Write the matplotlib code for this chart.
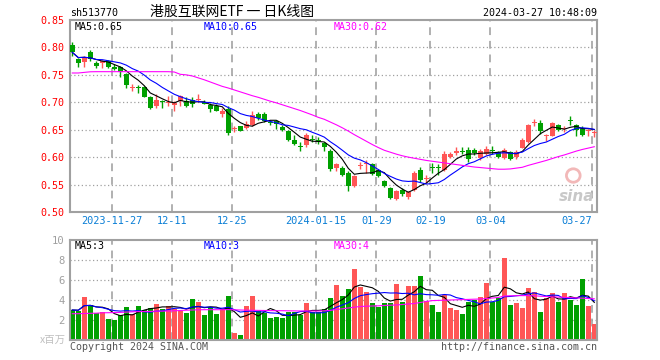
import numpy as np
import pandas as pd
import matplotlib
matplotlib.use('Agg')
import matplotlib.pyplot as plt
from matplotlib.patches import Ellipse

# daily candles, 2023-11-16 .. 2024-03-27
opens = [0.805, 0.778, 0.773, 0.791, 0.771, 0.771, 0.775, 0.765, 0.764, 0.751,
         0.726, 0.728, 0.727, 0.710, 0.693, 0.703, 0.699, 0.695, 0.703, 0.703,
         0.704, 0.704, 0.701, 0.695, 0.693, 0.678, 0.687, 0.651, 0.656, 0.654,
         0.659, 0.678, 0.679, 0.663, 0.665, 0.655, 0.648, 0.632, 0.619, 0.622,
         0.632, 0.631, 0.625, 0.612, 0.580, 0.581, 0.571, 0.547, 0.584, 0.587,
         0.587, 0.576, 0.557, 0.5445, 0.524, 0.541, 0.527, 0.540, 0.5765, 0.560,
         0.581, 0.582, 0.577, 0.600, 0.608, 0.611, 0.613, 0.613, 0.598, 0.606,
         0.613, 0.610, 0.598, 0.610, 0.601, 0.617, 0.628, 0.662, 0.662, 0.639,
         0.639, 0.659, 0.651, 0.667, 0.658, 0.653, 0.6478, 0.6436]
highs = [0.810, 0.781, 0.785, 0.795, 0.775, 0.777, 0.777, 0.770, 0.766, 0.753,
         0.734, 0.731, 0.729, 0.712, 0.715, 0.705, 0.712, 0.703, 0.714, 0.709,
         0.709, 0.716, 0.704, 0.698, 0.697, 0.690, 0.693, 0.656, 0.657, 0.665,
         0.685, 0.682, 0.682, 0.667, 0.667, 0.659, 0.649, 0.640, 0.628, 0.644,
         0.641, 0.636, 0.628, 0.614, 0.590, 0.584, 0.575, 0.567, 0.592, 0.595,
         0.590, 0.578, 0.558, 0.546, 0.540, 0.544, 0.539, 0.574, 0.582, 0.568,
         0.590, 0.588, 0.611, 0.610, 0.618, 0.618, 0.619, 0.616, 0.615, 0.621,
         0.621, 0.612, 0.616, 0.612, 0.613, 0.634, 0.661, 0.670, 0.668, 0.6424,
         0.664, 0.661, 0.657, 0.6756, 0.661, 0.657, 0.651, 0.6497]
lows = [0.784, 0.765, 0.764, 0.775, 0.762, 0.762, 0.762, 0.758, 0.747, 0.726,
        0.720, 0.717, 0.709, 0.688, 0.690, 0.690, 0.694, 0.685, 0.693, 0.691,
        0.691, 0.701, 0.696, 0.682, 0.684, 0.673, 0.641, 0.645, 0.647, 0.652,
        0.657, 0.667, 0.664, 0.659, 0.652, 0.648, 0.629, 0.622, 0.612, 0.619,
        0.628, 0.624, 0.612, 0.574, 0.575, 0.565, 0.538, 0.545, 0.578, 0.572,
        0.568, 0.563, 0.546, 0.523, 0.522, 0.530, 0.524, 0.538, 0.555, 0.553,
        0.571, 0.568, 0.575, 0.598, 0.604, 0.605, 0.592, 0.604, 0.595, 0.604,
        0.606, 0.598, 0.596, 0.595, 0.597, 0.616, 0.626, 0.656, 0.642, 0.6295,
        0.638, 0.647, 0.645, 0.659, 0.639, 0.639, 0.638, 0.636]
closes = [0.791, 0.772, 0.783, 0.778, 0.766, 0.776, 0.764, 0.760, 0.756, 0.731,
          0.728, 0.726, 0.710, 0.690, 0.705, 0.701, 0.701, 0.698, 0.712, 0.693,
          0.697, 0.705, 0.697, 0.687, 0.685, 0.685, 0.644, 0.653, 0.648, 0.660,
          0.677, 0.671, 0.666, 0.662, 0.660, 0.649, 0.632, 0.624, 0.618, 0.640,
          0.631, 0.630, 0.619, 0.578, 0.587, 0.567, 0.547, 0.565, 0.586, 0.590,
          0.570, 0.566, 0.547, 0.525, 0.538, 0.533, 0.537, 0.572, 0.559, 0.562,
          0.580, 0.580, 0.606, 0.606, 0.611, 0.609, 0.596, 0.607, 0.612, 0.614,
          0.611, 0.600, 0.613, 0.597, 0.610, 0.632, 0.659, 0.664, 0.6485, 0.641,
          0.662, 0.650, 0.653, 0.666, 0.650, 0.641, 0.6497, 0.6448]
ma30 = [0.7534, 0.7534, 0.7545, 0.7556, 0.7558, 0.7558, 0.7558, 0.7558, 0.7558, 0.7558,
        0.7558, 0.7558, 0.7558, 0.7558, 0.7558, 0.7558, 0.7558, 0.7552, 0.7510, 0.7500,
        0.748, 0.7445, 0.741, 0.737, 0.733, 0.729, 0.726, 0.7225, 0.719, 0.7155,
        0.712, 0.709, 0.7055, 0.702, 0.699, 0.6955, 0.692, 0.6885, 0.685, 0.681,
        0.677, 0.6725, 0.669, 0.664, 0.659, 0.6535, 0.6475, 0.641, 0.635, 0.629,
        0.623, 0.6175, 0.6125, 0.609, 0.6055, 0.6025, 0.600, 0.598, 0.596, 0.594,
        0.5925, 0.591, 0.5895, 0.588, 0.5865, 0.585, 0.5835, 0.582, 0.581, 0.580,
        0.579, 0.578, 0.578, 0.5785, 0.580, 0.5815, 0.585, 0.588, 0.591, 0.594,
        0.5975, 0.601, 0.604, 0.6075, 0.611, 0.614, 0.6165, 0.619]

# volume, millions
volumes = [3.0, 2.95, 4.35, 3.55, 2.7, 2.85, 2.1, 2.0, 2.5, 3.35,
           2.6, 3.45, 3.05, 3.25, 3.65, 3.15, 3.45, 3.15, 2.9, 2.75,
           4.15, 3.85, 2.5, 3.35, 2.6, 3.1, 4.45, 0.7, 0.5, 3.45,
           4.45, 2.9, 2.75, 2.2, 2.3, 2.2, 2.85, 2.85, 2.5, 3.75,
           2.85, 2.85, 3.1, 4.25, 5.55, 4.45, 5.15, 7.07, 5.3, 4.85,
           3.75, 3.35, 3.75, 3.75, 5.65, 3.85, 5.45, 5.45, 6.45, 3.95,
           3.55, 2.85, 4.55, 3.25, 3.05, 2.65, 3.85, 4.05, 4.35, 5.75,
           3.85, 4.25, 8.2, 3.55, 3.75, 3.25, 5.25, 4.85, 2.85, 4.25,
           4.75, 3.85, 4.75, 4.05, 3.55, 6.15, 3.45, 1.6]
vol_ma30 = [2.63, 2.63, 2.65, 2.67, 2.68, 2.72, 2.73, 2.74, 2.76, 2.79,
            2.82, 2.84, 2.85, 2.86, 2.88, 2.89, 2.90, 2.92, 2.95, 2.98,
            3.00, 3.02, 3.03, 3.03, 3.03, 3.03, 3.04, 3.02, 3.00, 2.98,
            2.97, 2.96, 2.95, 2.94, 2.93, 2.93, 2.92, 2.91, 2.90, 2.90,
            2.90, 2.90, 2.92, 2.96, 3.05, 3.12, 3.20, 3.28, 3.35, 3.38,
            3.40, 3.42, 3.45, 3.48, 3.50, 3.55, 3.60, 3.65, 3.75, 3.85,
            3.94, 3.96, 3.98, 4.00, 4.02, 4.04, 4.06, 4.08, 4.10, 4.15,
            4.20, 4.25, 4.40, 4.42, 4.43, 4.44, 4.44, 4.42, 4.38, 4.35,
            4.32, 4.29, 4.27, 4.24, 4.21, 4.18, 4.15, 4.12]

date_pos = [7, 17, 27, 41, 51, 60, 70, 87]
date_labels = ['2023-11-27', '12-11', '12-25', '2024-01-15', '01-29', '02-19', '03-04', '03-27']
price_ticks = [0.50, 0.55, 0.60, 0.65, 0.70, 0.75, 0.80, 0.85]
vol_ticks = [2, 4, 6, 8, 10]

RED = '#ff5656'
GREEN = '#00a000'
MONO = 'DejaVu Sans Mono'
CJK = ['Noto Sans CJK SC', 'DejaVu Sans']

o = np.array(opens); h = np.array(highs); l = np.array(lows); c = np.array(closes)
v = np.array(volumes)
x = np.arange(len(c))
cols = np.where(c >= o, RED, GREEN)
ma5 = pd.Series(c).rolling(5, min_periods=1).mean()
ma10 = pd.Series(c).rolling(10, min_periods=1).mean()
vma5 = pd.Series(v).rolling(5, min_periods=1).mean()
vma10 = pd.Series(v).rolling(10, min_periods=1).mean()

fig = plt.figure(figsize=(6.6, 3.6), dpi=100)
ax = fig.add_axes([70/660, 148/360, 527/660, 192/360])
axv = fig.add_axes([70/660, 20/360, 527/660, 100/360])
xlim = (-2.3/6, 87 + 2.7/6)

for a in (ax, axv):
    a.set_xlim(*xlim)
    for s in a.spines.values():
        s.set_color('#a0a0a0')
        s.set_linewidth(1.5)
    for p in date_pos:
        a.axvline(p - 1/3, color='#b0b0b0', lw=1.4, ls=(0, (4, 3)), zorder=0)
    a.tick_params(length=0)

# price panel
ax.set_ylim(0.50, 0.85)
for t in price_ticks[1:-1]:
    ax.axhline(t, color='#a0a0a0', lw=0.9, ls=(0, (1, 2)), zorder=0)
ax.vlines(x, l, h, colors=cols, lw=1.0, zorder=2)
ax.bar(x, np.maximum(np.abs(c - o), 0.0018), bottom=np.minimum(o, c),
       width=0.82, color=cols, zorder=3)
ax.plot(x, ma5, color='black', lw=0.8, zorder=4)
ax.plot(x, ma10, color='#0000ff', lw=0.8, zorder=4)
ax.plot(x, ma30, color='#ff00ff', lw=0.8, zorder=4)
ax.set_yticks(price_ticks)
ax.set_yticklabels(['%.2f' % t for t in price_ticks], color='#ff0000',
                   fontsize=7.2, family=MONO)
ax.tick_params(axis='y', pad=4)
ax.set_xticks([p - 1/3 for p in date_pos])
ax.set_xticklabels(date_labels, color='#0a7ed6', fontsize=7.4, family=MONO)
ax.tick_params(axis='x', pad=3)
ax.get_xticklabels()[-1].set_ha('right')
ax.text(0.009, 0.963, 'MA5:0.65', transform=ax.transAxes, fontsize=7.2,
        family=MONO, color='black', va='center')
ax.text(0.254, 0.963, 'MA10:0.65', transform=ax.transAxes, fontsize=7.2,
        family=MONO, color='#0000ff', va='center')
ax.text(0.501, 0.963, 'MA30:0.62', transform=ax.transAxes, fontsize=7.2,
        family=MONO, color='#ff00ff', va='center')
# sina watermark
ax.add_patch(Ellipse((0.955, 0.19), 0.026, 0.07, transform=ax.transAxes,
                     facecolor='none', edgecolor='#f2b8b8', lw=2, zorder=1))
ax.text(0.995, 0.08, 'sina', transform=ax.transAxes, fontsize=11,
        fontweight='bold', style='italic', color='#c8c8c8', ha='right',
        va='center', zorder=1)

# volume panel
axv.set_ylim(0, 10)
for t in vol_ticks[:-1]:
    axv.axhline(t, color='#a0a0a0', lw=0.9, ls=(0, (1, 2)), zorder=0)
axv.bar(x, v, width=0.82, color=cols, zorder=2)
axv.plot(x, vma5, color='black', lw=0.8, zorder=3)
axv.plot(x, vma10, color='#0000ff', lw=0.8, zorder=3)
axv.plot(x, vol_ma30, color='#ff00ff', lw=0.8, zorder=3)
axv.set_xticks([])
axv.set_yticks(vol_ticks)
axv.set_yticklabels([str(t) for t in vol_ticks], color='#a0a0a0',
                    fontsize=7.6, family=MONO)
axv.tick_params(axis='y', pad=4)
axv.text(0.009, 0.94, 'MA5:3', transform=axv.transAxes, fontsize=7.2,
         family=MONO, color='black', va='center')
axv.text(0.254, 0.94, 'MA10:3', transform=axv.transAxes, fontsize=7.2,
         family=MONO, color='#0000ff', va='center')
axv.text(0.501, 0.94, 'MA30:4', transform=axv.transAxes, fontsize=7.2,
         family=MONO, color='#ff00ff', va='center')

# header / footer texts
fig.text(70/660, 1 - 13/360, 'sh513770', fontsize=7.2, family=MONO, va='center')
fig.text(150/660, 1 - 12/360, '港股互联网ETF 一 日K线图', fontsize=10,
         family=CJK, va='center')
fig.text(597/660, 1 - 13/360, '2024-03-27 10:48:09', fontsize=7.2, family=MONO,
         va='center', ha='right')
fig.text(66/660, 20/360, 'x百万', fontsize=7.5, family=CJK, color='#c0c0c0',
         va='center', ha='right')
fig.text(70/660, 1 - 347/360, 'Copyright 2024 SINA.COM', fontsize=7.2,
         family=MONO, color='#555555', va='center')
fig.text(597/660, 1 - 347/360, 'http://finance.sina.com.cn', fontsize=7.2,
         family=MONO, color='#555555', va='center', ha='right')

fig.savefig('out.png', dpi=100, facecolor='white')
